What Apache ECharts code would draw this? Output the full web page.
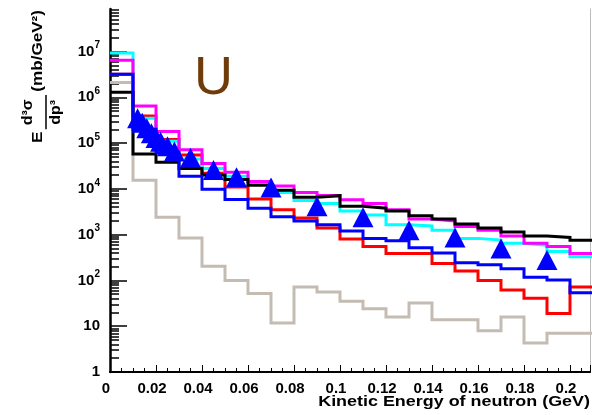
<!DOCTYPE html>
<html>
<head>
<meta charset="utf-8">
<script src="https://cdn.jsdelivr.net/npm/echarts@6/dist/echarts.min.js"></script>
<style>
  html, body { margin: 0; padding: 0; background: #fff; }
  #chart { width: 592px; height: 415px; }
</style>
</head>
<body>
<div id="chart"></div>
<script>
// Histogram binning (GeV): 21 bins of 0.01 starting at 0
const binStart = 0;
const binWidth = 0.01;

// Bin contents, E d3sigma/dp3 in mb/GeV^2
const blackHist   = [1.3e6, 5.8e4, 3.8e4, 2.8e4, 2.0e4, 1.6e4, 1.2e4, 9300, 6600, 7100, 4200, 3800, 3300, 2600, 2200, 1700, 1400, 1150, 930, 870, 760];
const magentaHist = [6.5e6, 6.5e5, 1.8e5, 7.2e4, 3.6e4, 2.3e4, 1.45e4, 1.15e4, 8300, 7200, 5800, 4800, 3500, 2200, 2000, 1500, 1250, 930, 650, 550, 390];
const cyanHist    = [9.3e6, 3.5e5, 1.1e5, 4.5e4, 2.8e4, 1.9e4, 1.3e4, 8300, 5600, 4800, 3300, 2700, 1650, 1550, 1250, 830, 760, 650, 590, 430, 330];
const redHist     = [3.2e6, 3.9e5, 1.2e5, 5.5e4, 2.2e4, 1.1e4, 6000, 3500, 2300, 1400, 800, 550, 390, 390, 235, 160, 100, 62, 41, 19, 72];
const blueHist    = [3.2e6, 2.0e5, 6.2e4, 1.9e4, 9800, 5900, 3800, 2450, 2000, 1650, 1200, 830, 740, 520, 400, 245, 220, 180, 118, 102, 54];
const grayHist    = [2.1e6, 1.55e4, 2400, 850, 205, 100, 52, 11.7, 72, 56, 35, 24, 16, 32, 13.8, 13.8, 8, 16, 4.3, 7, 7];

// Measured points (triangles)
const pointX = [0.012, 0.014, 0.016, 0.018, 0.020, 0.022, 0.025, 0.028, 0.035, 0.045, 0.055, 0.07, 0.09, 0.11, 0.13, 0.15, 0.17, 0.19];
const pointY = [3.5e5, 2.8e5, 2.1e5, 1.65e5, 1.3e5, 1.07e5, 8.5e4, 6.6e4, 4.8e4, 2.6e4, 1.8e4, 1.07e4, 4200, 2400, 1250, 870, 500, 280];

// Axis ranges and tick labels
const xMin = 0;
const xMax = 0.2087;
const xInterval = 0.02;
const yDecades = [0, 1, 2, 3, 4, 5, 6, 7];   // labelled powers of ten
const yMinLog = 0;
const yMaxLog = 7.93;

const FONT = '"Liberation Sans", Arial, sans-serif';

// step outline of a histogram in log10 space
function histLine(values) {
  const pts = values.map((v, i) => [binStart + i * binWidth, Math.log10(v)]);
  pts.push([binStart + values.length * binWidth, Math.log10(values[values.length - 1])]);
  return pts;
}

// minor log ticks at 2..9 x 10^n
const yMinorTicks = [];
yDecades.forEach(n => {
  for (let k = 2; k <= 9; k++) {
    const v = n + Math.log10(k);
    if (v < yMaxLog) yMinorTicks.push(v);
  }
});

function histSeries(values, color, z) {
  return {
    type: 'line',
    data: histLine(values),
    step: 'end',
    showSymbol: false,
    symbol: 'none',
    z: z,
    lineStyle: { color: color, width: 3, cap: 'butt', join: 'miter', opacity: 1 },
    silent: true
  };
}

const chart = echarts.init(document.getElementById('chart'), null, { renderer: 'canvas' });

chart.setOption({
  animation: false,
  backgroundColor: '#fff',
  grid: { left: 110, right: 2, top: 9, bottom: 43, containLabel: false },
  xAxis: [{
    type: 'value',
    min: xMin, max: xMax, interval: xInterval,
    axisLine: { show: true, lineStyle: { color: '#000', width: 2 } },
    axisTick: { show: true, inside: true, length: 7, lineStyle: { color: '#000', width: 1 } },
    minorTick: { show: true, splitNumber: 4, length: 4, lineStyle: { color: '#000', width: 1 } },
    splitLine: { show: false },
    axisLabel: {
      margin: 9,
      padding: [0, 8, 0, 0],
      color: '#000',
      fontFamily: FONT, fontWeight: 'bold', fontSize: 15,
      formatter: v => (v === 0 ? '0' : String(+v.toFixed(2)))
    }
  }, {
    type: 'value', position: 'top',
    min: xMin, max: xMax,
    axisLine: { show: true, lineStyle: { color: '#000', width: 1.5 } },
    axisTick: { show: false }, axisLabel: { show: false }, splitLine: { show: false }
  }],
  yAxis: [{
    type: 'value',
    min: yMinLog, max: yMaxLog,
    axisLine: { show: true, lineStyle: { color: '#000', width: 2.5 } },
    axisTick: { show: true, inside: true, length: 17, customValues: yDecades, lineStyle: { color: '#000', width: 1.5 } },
    splitLine: { show: false },
    axisLabel: {
      customValues: yDecades,
      margin: 10,
      color: '#000',
      formatter: v => {
        const n = Math.round(v);
        if (n === 0) return '{b|1}';
        if (n === 1) return '{b|10}';
        return '{b|10}{s|' + n + '}';
      },
      rich: {
        b: { fontFamily: FONT, fontWeight: 'bold', fontSize: 15, lineHeight: 22, color: '#000' },
        s: { fontFamily: FONT, fontWeight: 'bold', fontSize: 10, lineHeight: 12, verticalAlign: 'top', color: '#000' }
      }
    }
  }, {
    type: 'value',
    min: yMinLog, max: yMaxLog,
    position: 'left',
    axisLine: { show: false },
    axisTick: { show: true, inside: true, length: 9, customValues: yMinorTicks, lineStyle: { color: '#000', width: 1.5 } },
    axisLabel: { show: false },
    splitLine: { show: false }
  }, {
    type: 'value',
    min: yMinLog, max: yMaxLog,
    position: 'right',
    axisLine: { show: true, lineStyle: { color: '#bbbbbb', width: 1 } },
    axisTick: { show: false }, axisLabel: { show: false }, splitLine: { show: false }
  }],
  series: [
    histSeries(grayHist, '#c4bcb2', 2),
    histSeries(redHist, '#ff0000', 3),
    histSeries(cyanHist, '#00ffff', 4),
    histSeries(magentaHist, '#ff00ff', 5),
    histSeries(blackHist, '#000000', 6),
    histSeries(blueHist, '#0000ff', 7),
    {
      type: 'scatter',
      data: pointX.map((x, i) => [x, Math.log10(pointY[i])]),
      symbol: 'triangle',
      symbolSize: [21, 20],
      itemStyle: { color: '#0000ff', opacity: 1 },
      z: 8,
      silent: true
    }
  ],
  graphic: [
    {
      type: 'text', left: 194, top: 52, z: 20,
      style: { text: 'U', fill: '#6e3b0b', font: 'normal 54px ' + FONT }
    },
    {
      type: 'text', x: 590, y: 402, scaleX: 1.28, z: 20,
      style: {
        text: 'Kinetic Energy of neutron (GeV)',
        fill: '#000', font: 'bold 14px ' + FONT,
        textAlign: 'right', textVerticalAlign: 'middle'
      }
    },
    {
      type: 'group', x: 46, y: 143, rotation: Math.PI / 2, scaleX: 1.14, z: 20,
      children: [
        { type: 'text', x: 0, y: -8, style: { text: 'E', fill: '#000', font: 'bold 15px ' + FONT, textAlign: 'left', textVerticalAlign: 'middle' } },
        { type: 'text', x: 27, y: -18, style: { text: 'd\u00b3\u03c3', fill: '#000', font: 'bold 14px ' + FONT, textAlign: 'center', textVerticalAlign: 'middle' } },
        { type: 'line', shape: { x1: 12, y1: 0, x2: 42, y2: 0 }, style: { stroke: '#000', lineWidth: 1.5 } },
        { type: 'text', x: 27, y: 10, style: { text: 'dp\u00b3', fill: '#000', font: 'bold 14px ' + FONT, textAlign: 'center', textVerticalAlign: 'middle' } },
        { type: 'text', x: 45, y: -8, style: { text: '(mb/GeV\u00b2)', fill: '#000', font: 'bold 15px ' + FONT, textAlign: 'left', textVerticalAlign: 'middle' } }
      ]
    }
  ]
});
</script>
</body>
</html>
